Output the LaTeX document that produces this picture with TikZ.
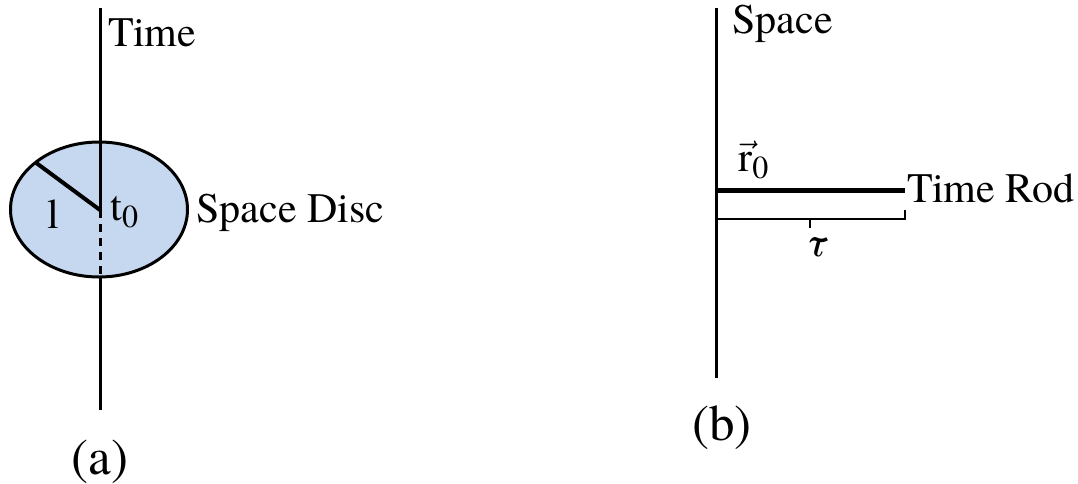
\documentclass[tikz,border=0pt]{standalone}
\usepackage{fontspec}
\usepackage{amsmath}
\usetikzlibrary{shapes.geometric}
\setmainfont{texgyretermes}[Extension=.otf,UprightFont=*-regular,ItalicFont=*-italic,BoldFont=*-bold]
\definecolor{discblue}{RGB}{197,216,239}
\begin{document}
\begin{tikzpicture}[x=0.5pt,y=-0.5pt,
  axis/.style={line width=1.5pt},
  lbl/.style={inner sep=0pt,font=\fontsize{21}{24}\selectfont},
  captionlbl/.style={inner sep=0pt,font=\fontsize{25.5}{28}\selectfont}]
\useasboundingbox (0,0) rectangle (1078,483);
% ---------- (a) ----------
\coordinate (atop) at (100,8);
\coordinate (abot) at (100,410);
\coordinate (ac) at (100,210);
\coordinate (arim) at (35,162);
\node[draw,line width=1.5pt,fill=discblue,ellipse,minimum width=88.5pt,minimum height=67.5pt,inner sep=0pt] (disc) at (99,209.5) {};
\coordinate (abotd) at (100,277);
\draw[axis] (atop) -- (ac);
\draw[axis,dash pattern=on 4pt off 3pt] (ac) -- (abotd);
\draw[axis] (abotd) -- (abot);
\draw[line width=2pt] (arim) -- (ac);
\node[lbl,anchor=west] (timeA) at (108,33) {Time};
\node[lbl] (l) at (53,214) {l};
\node[lbl,anchor=west] (t0) at (110,212) {t\raisebox{-0.35ex}{\fontsize{16}{16}\selectfont 0}};
\node[lbl,anchor=west] (sdisc) at (196,213) {Space Disc};
\node[captionlbl] (capa) at (100,462) {(a)};
% ---------- (b) ----------
\coordinate (btop) at (716,8);
\coordinate (bbot) at (716,378);
\coordinate (rodL) at (716,190);
\coordinate (rodR) at (905,190);
\coordinate (brL) at (716,219);
\coordinate (brR) at (905,219);
\coordinate (brRt) at (905,210);
\coordinate (brM) at (810,219);
\coordinate (brMb) at (810,228);
\draw[axis] (btop) -- (bbot);
\draw[line width=2.5pt] (rodL) -- (rodR);
\draw[line width=1.2pt] (brL) -- (brR) -- (brRt);
\draw[line width=1.2pt] (brM) -- (brMb);
\node[lbl,anchor=west] (space) at (732,24) {Space};
\node[lbl,anchor=west] (r0) at (738,160) {$\vec{\text{r}}$\raisebox{-0.35ex}{\fontsize{16}{16}\selectfont 0}};
\node[lbl,anchor=west] (trod) at (907,188) {Time Rod};
\node[lbl] (tau) at (816,247) {\textit{τ}};
\node[captionlbl] (capb) at (722,428) {(b)};
\end{tikzpicture}
\end{document}
